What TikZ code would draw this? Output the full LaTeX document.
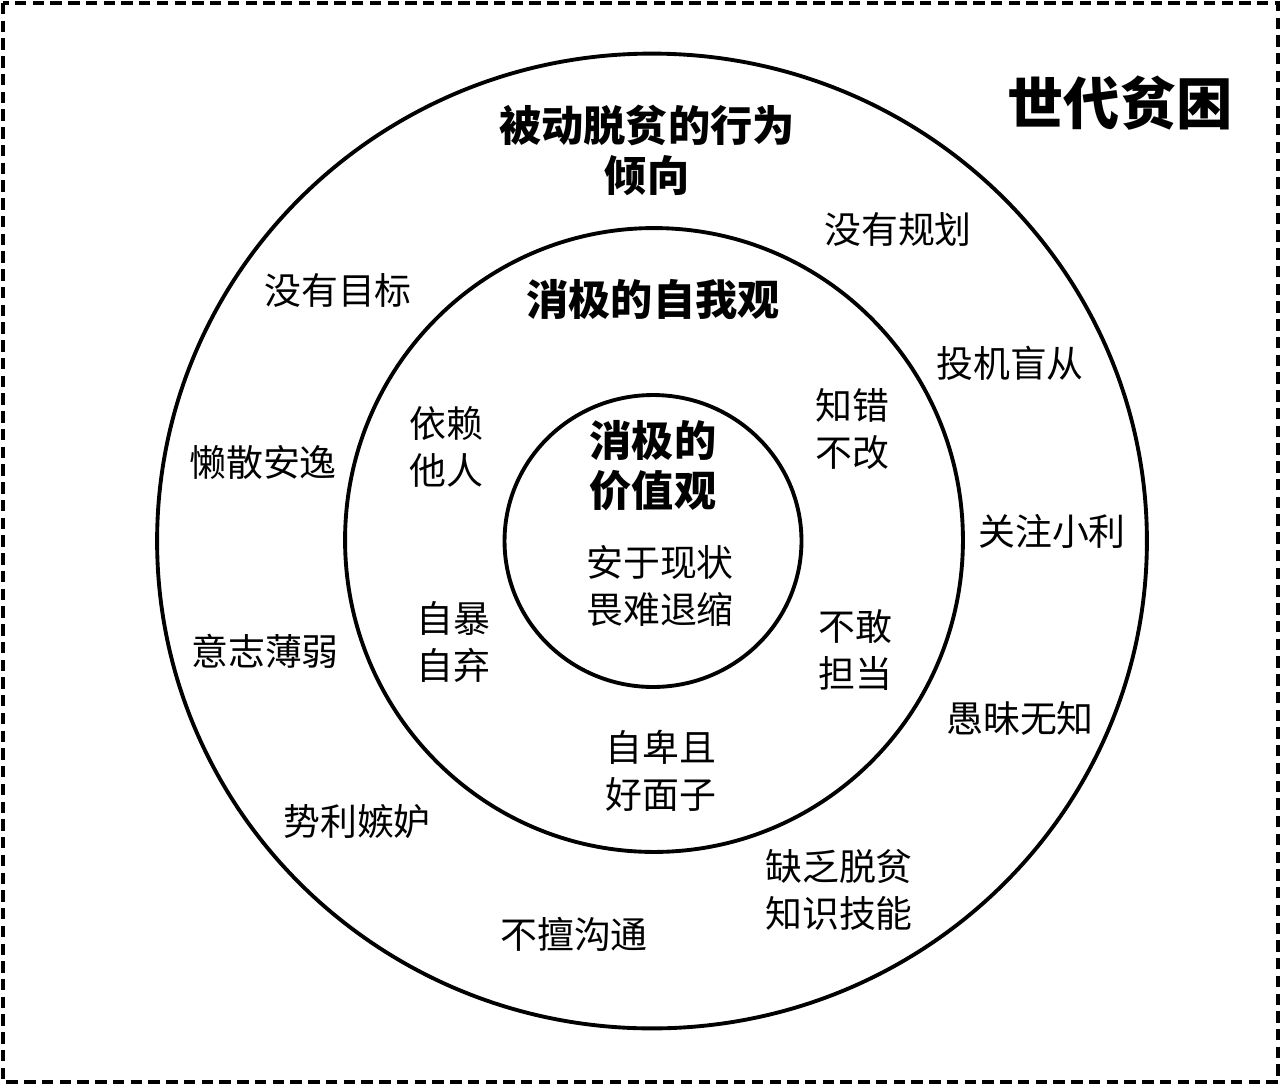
\documentclass[tikz,border=0pt]{standalone}
\usepackage{fontspec}
\setmainfont{Noto Sans CJK SC}
\tikzset{
  ring/.style={line width=2.2pt},
  lbl/.style={font=\fontsize{21}{27}\selectfont, align=center, inner sep=0pt},
  ttl/.style={font=\fontsize{24}{28.5}\selectfont\bfseries, align=center, inner sep=0pt}
}
\begin{document}
\begin{tikzpicture}[x=0.02cm,y=-0.02cm]
    \useasboundingbox (0,0) rectangle (1280,1085);
    \draw[line width=2pt, dash pattern=on 6.5pt off 3.6pt] (3,3) rectangle (1278,1082);
    % three rings
    \foreach \cx/\cy/\rx/\ry in {652/541/9.9cm/9.75cm, 654/540/6.18cm/6.24cm, 653/541/2.97cm/2.92cm}
    {
    \draw[ring] (\cx,\cy) ellipse ({\rx} and {\ry});
    }
    \node[font=\fontsize{32}{38}\selectfont\bfseries, inner sep=0pt] (sd) at (1120,103) {世代贫困};
    % outer ring
    \node[ttl] (bd) at (647,150) {被动脱贫的行为\\倾向};
    \node[lbl] (o1) at (898,229) {没有规划};
    \node[lbl] (o2) at (338,290) {没有目标};
    \node[lbl] (o3) at (1010,363) {投机盲从};
    \node[lbl] (o4) at (263,462) {懒散安逸};
    \node[lbl] (o5) at (1052,531) {关注小利};
    \node[lbl] (o6) at (265,651) {意志薄弱};
    \node[lbl] (o7) at (1020,718) {愚昧无知};
    \node[lbl] (o8) at (357,822) {势利嫉妒};
    \node[lbl] (o9) at (839,890) {缺乏脱贫\\知识技能};
    \node[lbl] (o10) at (574,934) {不擅沟通};
    % middle ring
    \node[ttl] (zw) at (653,300) {消极的自我观};
    \node[lbl] (m1) at (446,447) {依赖\\他人};
    \node[lbl] (m2) at (852,429) {知错\\不改};
    \node[lbl] (m3) at (453,642) {自暴\\自弃};
    \node[lbl] (m4) at (855,650) {不敢\\担当};
    \node[lbl] (m5) at (661,771) {自卑且\\好面子};
    % inner ring
    \node[ttl] (jz) at (653,466) {消极的\\价值观};
    \node[lbl] (i1) at (660,586) {安于现状\\畏难退缩};
\end{tikzpicture}
\end{document}
